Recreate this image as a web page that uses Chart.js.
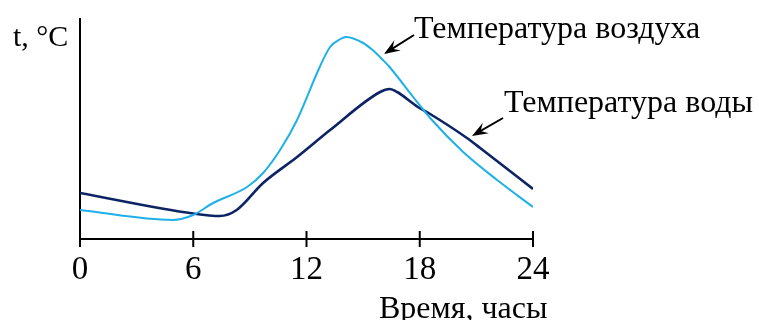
<!DOCTYPE html>
<html lang="ru">
<head>
<meta charset="UTF-8">
<title>Температура воздуха и воды</title>
<script src="https://cdn.jsdelivr.net/npm/chart.js@4/dist/chart.umd.min.js"></script>
<style>
    body {
        margin: 0;
        padding: 0;
        background: #fff;
    }
    #wrap {
        width: 759px;
        height: 320px;
    }
</style>
</head>
<body>
<div id="wrap"><canvas id="chart"></canvas></div>
<script>
// часы и значения (условные единицы, ось без делений)
const airHours  = [0, 4.9, 6, 7.05, 8.85, 9.7, 10.6, 11.5, 12.7, 13.25, 13.8, 14.1, 15, 15.5, 16.05, 16.4, 17.65, 18.55, 20.3, 22.1, 24];
const airTemp   = [2.9, 1.9, 2.4, 3.6, 5.2, 6.6, 8.9, 11.9, 17.2, 19.2, 20.0, 20.2, 19.6, 18.9, 17.9, 17.2, 14.2, 12.1, 8.7, 5.9, 3.2];
const waterHours = [0, 6, 7.4, 8.3, 9.7, 11.5, 13.25, 15.9, 16.4, 16.8, 17.9, 18.55, 20.5, 21.2, 24];
const waterTemp  = [4.6, 2.55, 2.3, 2.9, 5.6, 8.2, 10.9, 14.7, 15.0, 14.7, 13.2, 12.5, 10.1, 9.1, 5.0];
const xTicks = [0, 6, 12, 18, 24];

const airColor = '#1fb0ea';
const waterColor = '#0c2464';
const serif = '"Liberation Serif", "DejaVu Serif", serif';

function toPoints(xs, ys) {
    return xs.map((x, i) => ({ x: x, y: ys[i] }));
}

function arrow(ctx, x1, y1, x2, y2) {
    // линия + наконечник у (x2, y2)
    const a = Math.atan2(y2 - y1, x2 - x1);
    ctx.save();
    ctx.strokeStyle = '#000';
    ctx.fillStyle = '#000';
    ctx.lineWidth = 2;
    ctx.beginPath();
    ctx.moveTo(x1, y1);
    ctx.lineTo(x2 - 8 * Math.cos(a), y2 - 8 * Math.sin(a));
    ctx.stroke();
    ctx.translate(x2, y2);
    ctx.rotate(a);
    ctx.beginPath();
    ctx.moveTo(0, 0);
    ctx.lineTo(-16, -6);
    ctx.lineTo(-10, 0);
    ctx.lineTo(-16, 6);
    ctx.closePath();
    ctx.fill();
    ctx.restore();
}

const extras = {
    id: 'extras',
    afterDraw(chart) {
        const ctx = chart.ctx;
        const xs = chart.scales.x;
        const ys = chart.scales.y;
        const y0 = ys.getPixelForValue(0);
        ctx.save();
        // засечки на оси времени
        ctx.strokeStyle = '#000';
        ctx.lineWidth = 2;
        xTicks.forEach(t => {
            const px = xs.getPixelForValue(t);
            ctx.beginPath();
            ctx.moveTo(px, y0 - 8);
            ctx.lineTo(px, y0 + 8);
            ctx.stroke();
        });
        ctx.fillStyle = '#000';
        ctx.textBaseline = 'middle';
        ctx.textAlign = 'left';
        ctx.font = '30px ' + serif;
        ctx.fillText('t, °C', 13, 38);
        ctx.font = '32px ' + serif;
        ctx.fillText('Температура воздуха', 414, 30);
        ctx.fillText('Температура воды', 504, 104);
        ctx.fillText('Время, часы', 379, 310);
        ctx.restore();
        arrow(ctx, 414, 35, 384, 54);
        arrow(ctx, 503, 118, 472, 136);
    }
};

new Chart(document.getElementById('chart'), {
    type: 'line',
    data: {
        datasets: [
            {
                label: 'Температура воздуха',
                data: toPoints(airHours, airTemp),
                borderColor: airColor,
                borderWidth: 2,
                pointRadius: 0,
                cubicInterpolationMode: 'monotone',
                fill: false
            },
            {
                label: 'Температура воды',
                data: toPoints(waterHours, waterTemp),
                borderColor: waterColor,
                borderWidth: 2.6,
                pointRadius: 0,
                cubicInterpolationMode: 'monotone',
                fill: false
            }
        ]
    },
    options: {
        responsive: true,
        maintainAspectRatio: false,
        animation: false,
        layout: { padding: { left: 80, top: 19, right: 226, bottom: 0 } },
        plugins: {
            legend: { display: false },
            tooltip: { enabled: false }
        },
        scales: {
            x: {
                type: 'linear',
                min: 0,
                max: 24,
                grid: { display: false },
                border: { display: true, color: '#000', width: 2 },
                afterBuildTicks: s => { s.ticks = xTicks.map(v => ({ value: v })); },
                ticks: {
                    color: '#000',
                    font: { family: serif, size: 33 },
                    padding: 4,
                    maxRotation: 0
                },
                afterFit: s => { s.height = 81; }
            },
            y: {
                min: 0,
                max: 22,
                grid: { display: false },
                border: { display: true, color: '#000', width: 2 },
                ticks: { display: false },
                afterFit: s => { s.width = 0; }
            }
        }
    },
    plugins: [extras]
});
</script>
</body>
</html>
